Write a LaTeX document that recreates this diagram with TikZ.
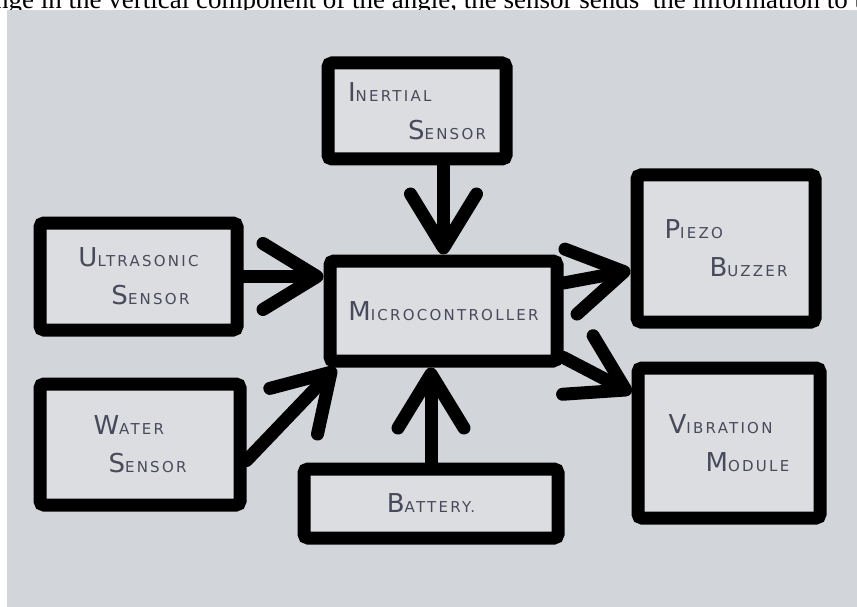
\documentclass[tikz,border=0pt]{standalone}
\usepackage{fontspec}
\usepackage{xcolor}
\usepackage{tikz}
\usetikzlibrary{arrows.meta}
\newfontfamily\handfont[LetterSpace=15]{DejaVu Sans}
\newfontfamily\pagefont{Liberation Serif}
\definecolor{photo}{RGB}{210,213,217}
\definecolor{paper}{RGB}{219,221,224}
\definecolor{ink}{RGB}{72,74,92}
\newcommand{\hw}[2]{{\fontsize{26}{26}\selectfont #1}#2}
\tikzset{
  blk/.style={rectangle, rounded corners=4pt, draw=black, line width=13pt, fill=paper,
    align=left, text=ink, font=\handfont\fontsize{15}{38}\selectfont, inner sep=0pt},
  flow/.style={-{Straight Barb[length=54pt, width=66pt, round]}, line width=13pt, line cap=round},
}

\begin{document}
\begin{tikzpicture}[x=1pt, y=-1pt]
\clip (0,0) rectangle (857,607);
\node[anchor=base west, inner sep=0pt, font=\pagefont\fontsize{27}{27}\selectfont] (pg) at (-5,9)
  {nge in the vertical component of the angle, the sensor sends\ \ the information to t};
% photo
\fill[photo] (7,10) rectangle (857,607);
\node[blk, minimum width=227pt, minimum height=100pt] (mc) at (443.5,311) {\hw{M}{ICROCONTROLLER}};
\node[blk, minimum width=178pt, minimum height=96pt] (ins) at (417,111)
  {\hw{I}{NERTIAL}\\\hspace*{60pt}\hw{S}{ENSOR}};
\node[blk, minimum width=197pt, minimum height=107pt] (us) at (138.5,276.5)
  {\hw{U}{LTRASONIC}\\\hspace*{33pt}\hw{S}{ENSOR}};
\node[blk, minimum width=200pt, minimum height=121pt] (wt) at (140,444.5)
  {\hw{W}{ATER}\\\hspace*{15pt}\hw{S}{ENSOR}};
\node[blk, minimum width=254pt, minimum height=69pt] (bat) at (431,503.5) {\hw{B}{ATTERY.}};
\node[blk, minimum width=178pt, minimum height=147pt] (pz) at (726,248.5)
  {\hw{P}{IEZO}\\\hspace*{45pt}\hw{B}{UZZER}};
\node[blk, minimum width=182pt, minimum height=150pt] (vb) at (729,443)
  {\hw{V}{IBRATION}\\\hspace*{37pt}\hw{M}{ODULE}};
% inputs
\draw[flow] (mc.north |- ins.south) -- (mc.north);
\draw[flow] (us.east) -- (us.east -| mc.west);
\draw[flow] ([yshift=-16pt]wt.east) -- ([xshift=12pt]mc.south west);
\draw[flow] (bat.north) -- (bat.north |- mc.south);
% outputs
\draw[flow] ([yshift=28pt]mc.east) -- ([yshift=-22pt]pz.west);
\draw[flow] ([yshift=10pt]mc.south east) -- ([yshift=50pt]vb.west);
\end{tikzpicture}
\end{document}
